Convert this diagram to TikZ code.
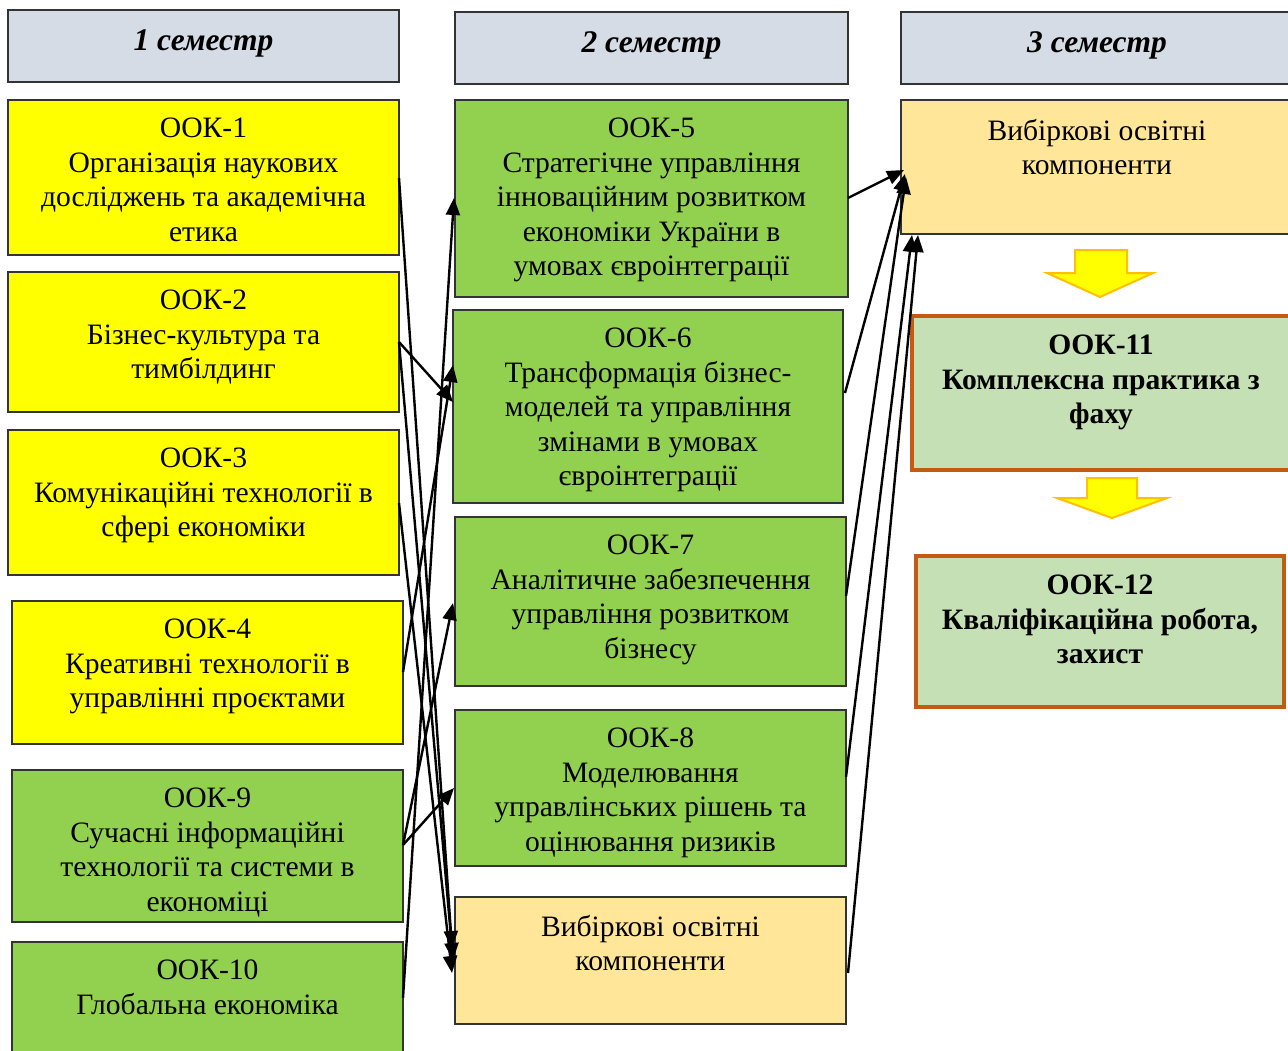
\documentclass[tikz,border=0pt]{standalone}
\usepackage{fontspec}
\setmainfont{Liberation Serif}
\usetikzlibrary{arrows.meta,calc}
\definecolor{hdr}{HTML}{D6DCE5}
\definecolor{ylw}{HTML}{FFFF00}
\definecolor{grn}{HTML}{92D050}
\definecolor{opt}{HTML}{FFE699}
\definecolor{lgrn}{HTML}{C5E0B4}
\definecolor{org}{HTML}{C55A11}
\definecolor{gold}{HTML}{FFC000}
\begin{document}
\begin{tikzpicture}[x=1pt,y=-1pt,
  box/.style={draw=black!80, line width=1.2pt, anchor=north west, inner sep=0, outer sep=0},
  hbox/.style={box, fill=hdr},
  ybox/.style={box, fill=ylw},
  gbox/.style={box, fill=grn},
  obox/.style={box, fill=opt},
  kbox/.style={box, fill=lgrn, draw=org, line width=3.5pt},
  txt/.style={anchor=north, align=center, font=\fontsize{29.6}{34.5}\selectfont, inner sep=0},
  btxt/.style={txt, font=\fontsize{29.6}{34.5}\selectfont\bfseries},
  htxt/.style={anchor=base, font=\fontsize{31.5}{34}\selectfont\bfseries\itshape, inner sep=0},
  conn/.style={line width=2.4pt, -{Triangle[length=17pt,width=14pt]}},
  blockarrow/.style={fill=ylw, draw=gold, line width=2pt, line join=miter}
]
\useasboundingbox (0,0) rectangle (1288,1050);
\clip (0,0) rectangle (1288,1050);

% headers
\node[hbox, minimum width=391, minimum height=72] (h1) at (8,10) {};
\node[hbox, minimum width=393, minimum height=72] (h2) at (455,12) {};
\node[hbox, minimum width=392, minimum height=72] (h3) at (901,12) {};
\node[htxt] (h1t) at ($(h1.north)+(0,40)$) {1 семестр};
\node[htxt] (h2t) at ($(h2.north)+(0,40)$) {2 семестр};
\node[htxt] (h3t) at ($(h3.north)+(0,40)$) {3 семестр};

% column 1
\node[ybox, minimum width=391, minimum height=155] (b1) at (8,100) {};
\node[ybox, minimum width=391, minimum height=140] (b2) at (8,272) {};
\node[ybox, minimum width=391, minimum height=145] (b3) at (8,430) {};
\node[ybox, minimum width=391, minimum height=143] (b4) at (12,601) {};
\node[gbox, minimum width=391, minimum height=152] (b9) at (12,770) {};
\node[gbox, minimum width=391, minimum height=130] (b10) at (12,942) {};

% column 2
\node[gbox, minimum width=393, minimum height=197] (b5) at (455,100) {};
\node[gbox, minimum width=390, minimum height=193] (b6) at (453,310) {};
\node[gbox, minimum width=391, minimum height=169] (b7) at (455,517) {};
\node[gbox, minimum width=391, minimum height=156] (b8) at (455,710) {};
\node[obox, minimum width=391, minimum height=127] (v2) at (455,897) {};

% column 3
\node[obox, minimum width=392, minimum height=134] (v3) at (901,100) {};
\node[kbox, minimum width=378, minimum height=154] (b11) at (912,316) {};
\node[kbox, minimum width=368, minimum height=151] (b12) at (916,556) {};

% texts
\node[txt] (b1t) at ($(b1.north)+(0,18)$) {ООК-1\\Організація наукових\\досліджень та академічна\\етика};
\node[txt] (b2t) at ($(b2.north)+(0,18)$) {ООК-2\\Бізнес-культура та\\тимбілдинг};
\node[txt] (b3t) at ($(b3.north)+(0,18)$) {ООК-3\\Комунікаційні технології в\\сфері економіки};
\node[txt] (b4t) at ($(b4.north)+(0,18)$) {ООК-4\\Креативні технології в\\управлінні проєктами};
\node[txt] (b9t) at ($(b9.north)+(0,18)$) {ООК-9\\Сучасні інформаційні\\технології та системи в\\економіці};
\node[txt] (b10t) at ($(b10.north)+(0,18)$) {ООК-10\\Глобальна економіка};
\node[txt] (b5t) at ($(b5.north)+(0,18)$) {ООК-5\\Стратегічне управління\\інноваційним розвитком\\економіки України в\\умовах євроінтеграції};
\node[txt] (b6t) at ($(b6.north)+(0,18)$) {ООК-6\\Трансформація бізнес-\\моделей та управління\\змінами в умовах\\євроінтеграції};
\node[txt] (b7t) at ($(b7.north)+(0,18)$) {ООК-7\\Аналітичне забезпечення\\управління розвитком\\бізнесу};
\node[txt] (b8t) at ($(b8.north)+(0,18)$) {ООК-8\\Моделювання\\управлінських рішень та\\оцінювання ризиків};
\node[txt] (v2t) at ($(v2.north)+(0,18)$) {Вибіркові освітні\\компоненти};
\node[txt] (v3t) at ($(v3.north)+(0,19)$) {Вибіркові освітні\\компоненти};
\node[btxt] (b11t) at ($(b11.north)+(0,19)$) {ООК-11\\Комплексна практика з\\фаху};
\node[btxt] (b12t) at ($(b12.north)+(0,19)$) {ООК-12\\Кваліфікаційна робота,\\захист};

% block arrows
\draw[blockarrow] (1075,250) -- (1127,250) -- (1127,273) -- (1153,273) -- (1100,297) -- (1047,273) -- (1075,273) -- cycle;
\draw[blockarrow] (1087,478) -- (1137,478) -- (1137,498) -- (1167,498) -- (1112,518) -- (1057,498) -- (1087,498) -- cycle;

% connectors column 1 -> column 2
\draw[conn] ($(b1.north east)+(0,78)$) -- ($(v2.north west)+(-3,51)$);
\draw[conn] ($(b2.north east)+(0,70)$) -- ($(v2.north west)+(-2,63)$);
\draw[conn] ($(b3.north east)+(0,73)$) -- ($(v2.north west)+(-3,76)$);
\draw[conn] ($(b2.north east)+(0,70)$) -- ($(b6.north west)+(0,92)$);
\draw[conn] ($(b4.north east)+(0,71)$) -- ($(b6.north west)+(0,55)$);
\draw[conn] ($(b9.north east)+(0,75)$) -- ($(b7.north west)+(-2,86)$);
\draw[conn] ($(b9.north east)+(0,75)$) -- ($(b8.north west)+(-1,78)$);
\draw[conn] ($(b10.north east)+(0,56)$) -- ($(b5.north west)+(-1,98)$);

% connectors column 2 -> column 3
\draw[conn] ($(b5.north east)+(0,98)$) -- ($(v3.north west)+(3,70)$);
\draw[conn] ($(b6.north east)+(2,83)$) -- ($(v3.north west)+(4,74)$);
\draw[conn] ($(b7.north east)+(0,79)$) -- ($(v3.north west)+(5,77)$);
\draw[conn] ($(b8.north east)+(0,67)$) -- ($(v3.south west)+(11,1)$);
\draw[conn] ($(v2.north east)+(2,76)$) -- ($(v3.south west)+(17,1)$);
\end{tikzpicture}
\end{document}
